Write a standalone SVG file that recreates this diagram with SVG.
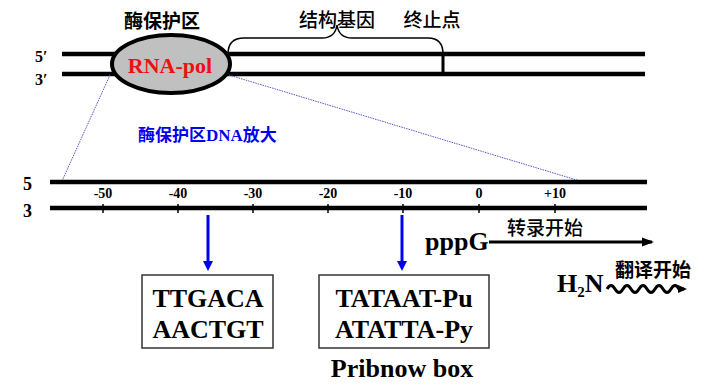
<svg xmlns="http://www.w3.org/2000/svg" width="704" height="386" viewBox="0 0 704 386">
<style>
.dna{stroke:#000;stroke-width:4.5;fill:none}
.lat{font-family:'Liberation Serif','DejaVu Serif','Times New Roman',serif;font-weight:bold;fill:#000}
.cjk{font-family:'Noto Sans CJK SC','Noto Sans CJK TC',sans-serif;fill:#000}
.tick{font-family:'Liberation Serif','DejaVu Serif',serif;font-weight:bold;font-size:14px;fill:#000;text-anchor:middle}
.tk{stroke:#000;stroke-width:1.5}
.box{fill:#fff;stroke:#333;stroke-width:1.5}
.seq{font-family:'Liberation Serif','DejaVu Serif','Times New Roman',serif;font-weight:bold;font-size:26px;fill:#000;text-anchor:middle}
.blue{stroke:#0000ee;stroke-width:3;fill:none}
.dot{stroke:#5555cc;stroke-width:1;stroke-dasharray:1.5 1;fill:none}
</style>
<defs>
<marker id="bArrow" markerWidth="10" markerHeight="10" refX="5" refY="5" orient="auto" markerUnits="userSpaceOnUse">
<path d="M0,0 L10,5 L0,10 Z" fill="#0000ee"/>
</marker>
<marker id="kArrow" markerWidth="12" markerHeight="10" refX="10" refY="5" orient="auto" markerUnits="userSpaceOnUse">
<path d="M0,0.5 L12,5 L0,9.5 Z" fill="#000"/>
</marker>
<marker id="wArrow" markerWidth="9" markerHeight="9" refX="6" refY="4.5" orient="auto" markerUnits="userSpaceOnUse">
<path d="M0,0.5 L9,4.5 L0,8.5 Z" fill="#000"/>
</marker>
</defs>

<g id="top-dna">
<line class="dna" x1="62" y1="54" x2="645" y2="54"/>
<line class="dna" x1="62" y1="74" x2="645" y2="74"/>
<text class="lat" x="35" y="62" font-size="16">5′</text>
<text class="lat" x="35" y="85" font-size="16">3′</text>
<line x1="443" y1="54" x2="443" y2="74" stroke="#000" stroke-width="3"/>
</g>

<g id="rna-pol">
<ellipse cx="171" cy="64" rx="59" ry="29" fill="#c0c0c0" stroke="#000" stroke-width="4"/>
<text class="lat" x="170" y="73" font-size="22" style="fill:#ee1111" text-anchor="middle">RNA-pol</text>
</g>

<g id="label-protect">
<text class="cjk" x="162" y="28" font-size="19" font-weight="bold" text-anchor="middle">酶保护区</text>
</g>

<g id="brace">
<path d="M228,54 C228,44 232,38 244,38 L322,38 C332,38 336,32 337,25 C338,32 342,38 352,38 L428,38 C438,38 443,44 443,54" fill="none" stroke="#000" stroke-width="1.5"/>
<text class="cjk" x="337" y="27" font-size="19" font-weight="500" text-anchor="middle">结构基因</text>
<text class="cjk" x="432" y="27" font-size="19" font-weight="500" text-anchor="middle">终止点</text>
</g>

<g id="connectors">
<line class="dot" x1="110" y1="75" x2="62" y2="181"/>
<line class="dot" x1="229" y1="75" x2="580" y2="181"/>
<line class="blue" x1="208" y1="215" x2="208" y2="266" marker-end="url(#bArrow)"/>
<line class="blue" x1="402" y1="215" x2="402" y2="266" marker-end="url(#bArrow)"/>
<line x1="489" y1="242" x2="652" y2="242" stroke="#000" stroke-width="3" marker-end="url(#kArrow)"/>
<path d="M607,289 q4,-7 8,0 q4,7 8,0 q4,-7 8,0 q4,7 8,0 q4,-7 8,0 q4,7 8,0 q4,-7 8,0 q4,7 8,0 q4,-7 8,0 l5,0" fill="none" stroke="#000" stroke-width="3" marker-end="url(#wArrow)"/>
</g>

<g id="zoom-label">
<text x="138" y="141" font-size="17" font-weight="bold" fill="#0000ee" font-family="'Liberation Serif','DejaVu Serif','Noto Sans CJK SC',serif">酶保护区DNA放大</text>
</g>

<g id="bottom-dna">
<line class="dna" x1="50" y1="182" x2="647" y2="182"/>
<line class="dna" x1="50" y1="208" x2="647" y2="208"/>
<text class="lat" x="23" y="190" font-size="18">5</text>
<text class="lat" x="23" y="217" font-size="18">3</text>
<g id="ticks">
<text class="tick" x="103" y="198">-50</text><line class="tk" x1="103" y1="204" x2="103" y2="213"/>
<text class="tick" x="178" y="198">-40</text><line class="tk" x1="178" y1="204" x2="178" y2="213"/>
<text class="tick" x="253" y="198">-30</text><line class="tk" x1="253" y1="204" x2="253" y2="213"/>
<text class="tick" x="328" y="198">-20</text><line class="tk" x1="328" y1="204" x2="328" y2="213"/>
<text class="tick" x="403" y="198">-10</text><line class="tk" x1="403" y1="204" x2="403" y2="213"/>
<text class="tick" x="479" y="198">0</text><line class="tk" x1="479" y1="204" x2="479" y2="213"/>
<text class="tick" x="555" y="198">+10</text><line class="tk" x1="555" y1="204" x2="555" y2="213"/>
</g>
</g>

<g id="box-35">
<rect class="box" x="142" y="275" width="131" height="73"/>
<text class="seq" x="208" y="307">TTGACA</text>
<text class="seq" x="208" y="338">AACTGT</text>
</g>

<g id="box-10">
<rect class="box" x="319" y="275" width="170" height="73"/>
<text class="seq" x="404" y="307">TATAAT-Pu</text>
<text class="seq" x="404" y="338">ATATTA-Py</text>
<text class="seq" x="402" y="377">Pribnow box</text>
</g>

<g id="transcription">
<text class="lat" x="425" y="250" font-size="26">pppG</text>
<text class="cjk" x="545" y="235" font-size="19" font-weight="500" text-anchor="middle">转录开始</text>
</g>

<g id="translation">
<text class="lat" x="557" y="292" font-size="26">H<tspan font-size="15" dy="5">2</tspan><tspan dy="-5">N</tspan></text>
<text class="cjk" x="653" y="277" font-size="19" font-weight="bold" text-anchor="middle">翻译开始</text>
</g>
</svg>
